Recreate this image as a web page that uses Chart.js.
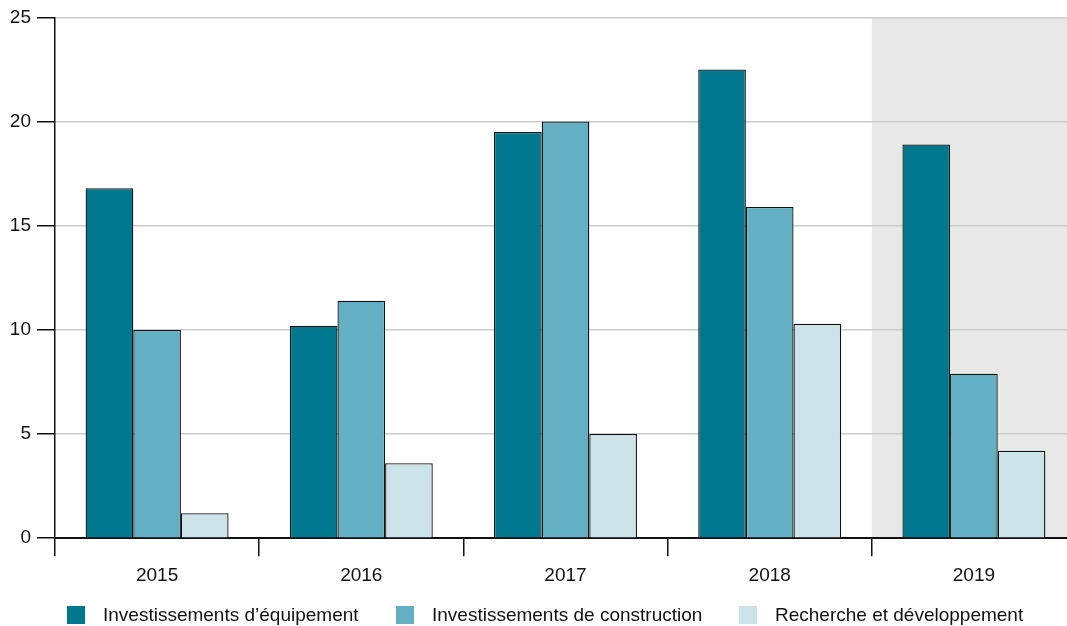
<!DOCTYPE html>
<html>
<head>
<meta charset="utf-8">
<script src="https://cdn.jsdelivr.net/npm/chart.js@4.4.1/dist/chart.umd.min.js"></script>
<style>
  html, body { margin: 0; padding: 0; background: #fff; overflow: hidden; }
  /* plot area runs a little past the right edge of the picture */
  #wrap { position: relative; width: 1067px; height: 626px; overflow: hidden; }
</style>
</head>
<body>
<div id="wrap"><canvas id="chart" width="1076" height="626"></canvas></div>
<script>
// Data
const years = ['2015', '2016', '2017', '2018', '2019'];
const equipement = [16.8, 10.2, 19.5, 22.5, 18.9];
const construction = [10.0, 11.4, 20.0, 15.9, 7.9];
const recherche = [1.2, 3.6, 5.0, 10.3, 4.2];
const yTicks = [0, 5, 10, 15, 20, 25];
const seriesNames = ["Investissements d’équipement", 'Investissements de construction', 'Recherche et développement'];
const seriesColors = ['#007990', '#63afc4', '#cce4e9'];
const shadedYear = '2019';

const FONT = "'Liberation Sans', Arial, Helvetica, sans-serif";
const legendX = [67, 396, 739];

// grey band behind the last (forecast) year
const shadePlugin = {
    id: 'shade',
    beforeDraw(chart) {
        const x = chart.scales.x;
        const area = chart.chartArea;
        const idx = years.indexOf(shadedYear);
        const w = (x.right - x.left) / years.length;
        const cx = x.getPixelForValue(idx);
        const ctx = chart.ctx;
        ctx.save();
        ctx.fillStyle = '#e8e8e8';
        ctx.fillRect(cx - w / 2, area.top, w, area.bottom - area.top);
        ctx.restore();
    }
};

// legend drawn at bottom
const legendPlugin = {
    id: 'bottomLegend',
    afterDraw(chart) {
        const ctx = chart.ctx;
        const y = 615;
        ctx.save();
        ctx.font = '19px ' + FONT;
        ctx.textBaseline = 'middle';
        chart.data.datasets.forEach((ds, i) => {
            ctx.fillStyle = ds.backgroundColor;
            ctx.fillRect(legendX[i], y - 9, 18, 18);
            ctx.fillStyle = '#111';
            ctx.fillText(ds.label, legendX[i] + 36, y + 1);
        });
        ctx.restore();
    }
};

const ctx = document.getElementById('chart').getContext('2d');
const chart = new Chart(ctx, {
    type: 'bar',
    data: {
        labels: years,
        datasets: [
            { label: seriesNames[0], data: equipement, backgroundColor: seriesColors[0] },
            { label: seriesNames[1], data: construction, backgroundColor: seriesColors[1] },
            { label: seriesNames[2], data: recherche, backgroundColor: seriesColors[2] }
        ].map(d => Object.assign(d, {
            borderColor: '#111',
            borderWidth: 1.3,
            categoryPercentage: 0.7,
            barPercentage: 1.0
        }))
    },
    options: {
        responsive: false,
        animation: false,
        layout: { padding: { top: 8, right: 0, bottom: 31, left: 0 } },
        plugins: {
            legend: { display: false },
            tooltip: { enabled: false }
        },
        scales: {
            x: {
                grid: {
                    drawOnChartArea: false,
                    drawTicks: true,
                    tickLength: 18,
                    tickColor: '#111',
                    lineWidth: 1.5
                },
                border: { display: true, color: '#111', width: 2 },
                ticks: {
                    color: '#111',
                    font: { family: FONT, size: 19 },
                    padding: 8
                }
            },
            y: {
                min: 0,
                max: 25,
                afterBuildTicks: (scale) => {
                    scale.ticks = yTicks.map(v => ({ value: v }));
                },
                afterFit: (scale) => { scale.width = 55; },
                grid: {
                    color: '#cccccc',
                    lineWidth: 1.5,
                    tickLength: 18,
                    tickColor: '#111'
                },
                border: { display: true, color: '#111', width: 1.5 },
                ticks: {
                    color: '#111',
                    font: { family: FONT, size: 19 },
                    padding: 6
                }
            }
        }
    },
    plugins: [shadePlugin, legendPlugin]
});
</script>
</body>
</html>
